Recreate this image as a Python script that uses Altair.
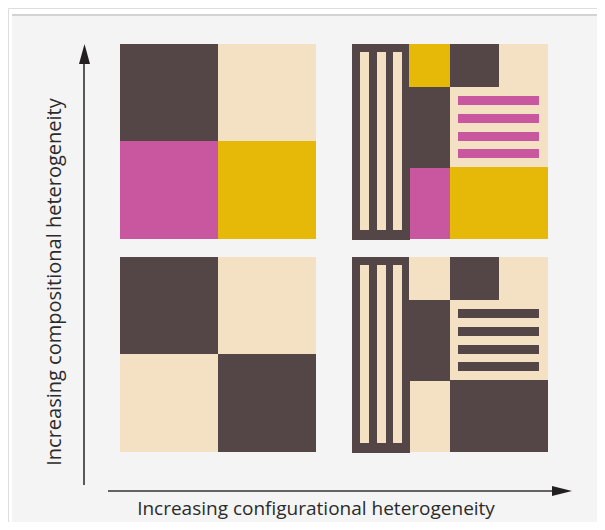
import altair as alt
import pandas as pd

# ---- diagram data (diagram units = pixels of the 605x530 figure) ----
PANEL_NAMES = ["low-low", "low-high", "high-low", "high-high"]
PANEL_X0 = [120, 120, 352, 352]
PANEL_Y0 = [257, 44, 257, 44]
PANEL_PATTERN = ["checker", "checker", "stripes", "stripes"]

# colour roles for each panel (role -> colour category)
PANEL_COLOURS = {
    "low-low":   {"a": "dark", "b": "cream", "c": "cream", "d": "dark", "s": "dark"},
    "low-high":  {"a": "dark", "b": "cream", "c": "magenta", "d": "yellow", "s": "magenta"},
    "high-low":  {"a": "cream", "b": "dark", "c": "cream", "d": "dark", "s": "dark"},
    "high-high": {"a": "yellow", "b": "dark", "c": "magenta", "d": "yellow", "s": "magenta"},
}

# simple 2x2 pattern
CHECK_X0 = [0, 98, 0, 98]
CHECK_X1 = [98, 196, 98, 196]
CHECK_Y0 = [0, 0, 97, 97]
CHECK_Y1 = [97, 97, 195, 195]
CHECK_ROLE = ["a", "b", "c", "d"]

# configurational pattern
STRIPE_X0 = [0, 8, 25, 41, 57, 98, 98, 55, 106, 106, 106, 106, 58, 98]
STRIPE_X1 = [58, 17, 34, 50, 98, 196, 147, 98, 187, 187, 187, 187, 98, 196]
STRIPE_Y0 = [0, 8, 8, 8, 0, 0, 0, 43, 52, 70, 88, 105, 124, 123]
STRIPE_Y1 = [196, 186, 186, 186, 43, 123, 43, 124, 61, 79, 97, 114, 195, 195]
STRIPE_ROLE = ["dark", "cream", "cream", "cream", "a", "cream", "dark", "dark",
               "s", "s", "s", "s", "c", "d"]

COLOUR_NAMES = ["dark", "cream", "magenta", "yellow"]
COLOUR_HEX = ["#544546", "#f4e1c4", "#c857a0", "#e6b808"]

X_LABEL = "Increasing configurational heterogeneity"
Y_LABEL = "Increasing compositional heterogeneity"

# ---- build tables ----
rows = []
order = 0
for name, px, py, pat in zip(PANEL_NAMES, PANEL_X0, PANEL_Y0, PANEL_PATTERN):
    cmap = PANEL_COLOURS[name]
    if pat == "checker":
        spec = zip(CHECK_X0, CHECK_X1, CHECK_Y0, CHECK_Y1, CHECK_ROLE)
    else:
        spec = zip(STRIPE_X0, STRIPE_X1, STRIPE_Y0, STRIPE_Y1, STRIPE_ROLE)
    for x0, x1, y0, y1, role in spec:
        col = cmap.get(role, role)
        rows.append(dict(x0=px + x0, x1=px + x1, y0=py + y0, y1=py + y1,
                         fill=col, order=order, panel=name))
        order += 1
rects = pd.DataFrame(rows)

W, H = 589, 514
X_SCALE = alt.Scale(domain=[8, 8 + W], nice=False, zero=False)
Y_SCALE = alt.Scale(domain=[8, 8 + H], nice=False, zero=False, reverse=True)

bg = pd.DataFrame({"x0": [12], "x1": [8 + W], "y0": [15], "y1": [8 + H]})
background = alt.Chart(bg).mark_rect(color="#f4f4f4").encode(
    x=alt.X("x0:Q", scale=X_SCALE, axis=None),
    x2="x1:Q",
    y=alt.Y("y0:Q", scale=Y_SCALE, axis=None),
    y2="y1:Q",
)
topline = alt.Chart(bg).mark_rule(color="#d3d3d3", strokeWidth=2).encode(
    x=alt.X("x0:Q", scale=X_SCALE, axis=None),
    x2="x1:Q",
    y=alt.Y("y0:Q", scale=Y_SCALE, axis=None),
)

tiles = alt.Chart(rects).mark_rect(strokeWidth=0).encode(
    x=alt.X("x0:Q", scale=X_SCALE, axis=None),
    x2="x1:Q",
    y=alt.Y("y0:Q", scale=Y_SCALE, axis=None),
    y2="y1:Q",
    color=alt.Color("fill:N", scale=alt.Scale(domain=COLOUR_NAMES, range=COLOUR_HEX), legend=None),
    order=alt.Order("order:Q"),
)

arrows = pd.DataFrame({
    "x0": [84, 108], "x1": [84, 553],
    "y0": [485, 491], "y1": [64, 491],
})
shafts = alt.Chart(arrows).mark_rule(color="#333333", strokeWidth=1.6).encode(
    x=alt.X("x0:Q", scale=X_SCALE, axis=None),
    x2="x1:Q",
    y=alt.Y("y0:Q", scale=Y_SCALE, axis=None),
    y2="y1:Q",
)

head_up = alt.Chart(pd.DataFrame({"x": [84.5], "y": [54]})).mark_point(
    shape="M -0.55 1 L 0 -1 L 0.55 1 Z", filled=True, size=400, color="#231f20", opacity=1
).encode(x=alt.X("x:Q", scale=X_SCALE, axis=None), y=alt.Y("y:Q", scale=Y_SCALE, axis=None))

head_right = alt.Chart(pd.DataFrame({"x": [562], "y": [491]})).mark_point(
    shape="M -1 -0.5 L 1 0 L -1 0.5 Z", filled=True, size=400, color="#231f20", opacity=1
).encode(x=alt.X("x:Q", scale=X_SCALE, axis=None), y=alt.Y("y:Q", scale=Y_SCALE, axis=None))

xlab = alt.Chart(pd.DataFrame({"x": [316], "y": [515], "t": [X_LABEL]})).mark_text(
    font="Open Sans", fontSize=19, color="#2b2b2b", align="center", baseline="alphabetic"
).encode(x=alt.X("x:Q", scale=X_SCALE, axis=None), y=alt.Y("y:Q", scale=Y_SCALE, axis=None), text="t:N")

ylab = alt.Chart(pd.DataFrame({"x": [61], "y": [282], "t": [Y_LABEL]})).mark_text(
    font="Open Sans", fontSize=20, color="#2b2b2b", align="center", baseline="alphabetic", angle=270
).encode(x=alt.X("x:Q", scale=X_SCALE, axis=None), y=alt.Y("y:Q", scale=Y_SCALE, axis=None), text="t:N")

chart = alt.layer(background, topline, tiles, shafts, head_up, head_right, xlab, ylab).properties(
    width=W, height=H, padding=0, autosize="none"
).configure_view(stroke=None).configure(background="white")

chart.save("out.html", embed_options={"renderer": "svg", "actions": False})
